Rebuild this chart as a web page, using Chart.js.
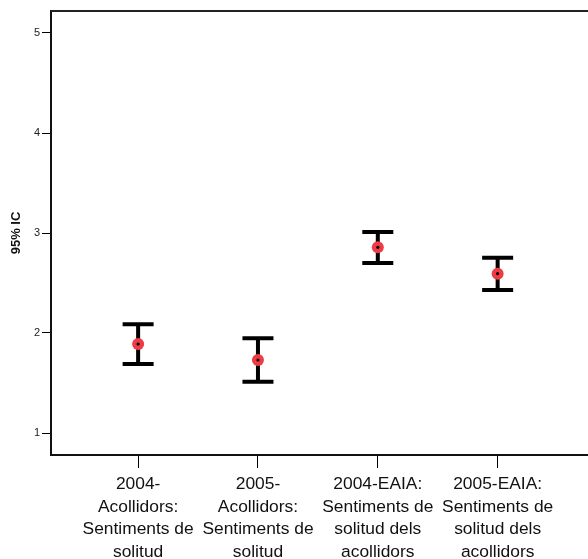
<!DOCTYPE html>
<html>
<head>
<meta charset="utf-8">
<script src="https://cdn.jsdelivr.net/npm/chart.js@4"></script>
<style>
  html, body { margin: 0; padding: 0; background: #fff; }
  #wrap { width: 588px; height: 559px; }
</style>
</head>
<body>
<div id="wrap"><canvas id="c" width="588" height="559"></canvas></div>
<script>
const categories = [
  ['2004-', 'Acollidors:', 'Sentiments de', 'solitud'],
  ['2005-', 'Acollidors:', 'Sentiments de', 'solitud'],
  ['2004-EAIA:', 'Sentiments de', 'solitud dels', 'acollidors'],
  ['2005-EAIA:', 'Sentiments de', 'solitud dels', 'acollidors']
];
const means = [1.89, 1.73, 2.857, 2.593];
const lower = [1.69, 1.513, 2.70, 2.43];
const upper = [2.087, 1.947, 3.01, 2.753];
const yTicks = [1, 2, 3, 4, 5];
const yTitle = '95% IC';

const positions = categories.map((_, i) => i + 1);
const pointData = positions.map((x, i) => ({ x: x, y: means[i] }));

const errorBarPlugin = {
  id: 'errorBars',
  beforeDatasetsDraw(chart) {
    const ctx = chart.ctx;
    const xs = chart.scales.x, ys = chart.scales.y;
    ctx.save();
    ctx.strokeStyle = '#000';
    ctx.lineWidth = 4;
    ctx.lineCap = 'butt';
    positions.forEach((p, i) => {
      const x = xs.getPixelForValue(p);
      const yh = ys.getPixelForValue(upper[i]);
      const yl = ys.getPixelForValue(lower[i]);
      ctx.beginPath();
      ctx.moveTo(x, yh); ctx.lineTo(x, yl);
      ctx.moveTo(x - 15.5, yh); ctx.lineTo(x + 15.5, yh);
      ctx.moveTo(x - 15.5, yl); ctx.lineTo(x + 15.5, yl);
      ctx.stroke();
    });
    ctx.restore();
  },
  afterDraw(chart) {
    const ctx = chart.ctx;
    const a = chart.chartArea;
    ctx.save();
    ctx.strokeStyle = '#222';
    ctx.lineWidth = 2;
    ctx.beginPath();
    ctx.moveTo(a.left, a.top);
    ctx.lineTo(chart.width, a.top);
    ctx.stroke();
    ctx.restore();
  }
};

new Chart(document.getElementById('c'), {
  type: 'scatter',
  data: {
    datasets: [
      { data: pointData, order: 0, pointRadius: 1.6, pointHoverRadius: 1.6, backgroundColor: '#000', borderWidth: 0 },
      { data: pointData, order: 1, pointRadius: 6, pointHoverRadius: 6, backgroundColor: '#ef3b45', borderWidth: 0 }
    ]
  },
  options: {
    responsive: false,
    animation: false,
    events: [],
    layout: { autoPadding: false, padding: { left: 0, top: 11, right: 0, bottom: 0 } },
    plugins: { legend: { display: false }, tooltip: { enabled: false } },
    scales: {
      x: {
        type: 'linear',
        min: 0.273,
        max: 4.754,
        afterBuildTicks(scale) { scale.ticks = positions.map(v => ({ value: v })); },
        afterFit(scale) { scale.height = 104; scale.paddingLeft = 0; scale.paddingRight = 0; },
        ticks: {
          autoSkip: false,
          maxRotation: 0,
          padding: 5,
          color: '#111',
          font: { family: 'Liberation Sans, Arial, sans-serif', size: 17.4, lineHeight: 1.3 },
          callback(v) { const i = Math.round(v) - 1; return categories[i] || ''; }
        },
        grid: { drawOnChartArea: false, drawTicks: true, tickLength: 13, color: '#000', lineWidth: 1 },
        border: { display: true, color: '#111', width: 2 }
      },
      y: {
        min: 0.78,
        max: 5.22,
        afterBuildTicks(scale) { scale.ticks = yTicks.map(v => ({ value: v })); },
        afterFit(scale) { scale.width = 51; scale.paddingTop = 0; scale.paddingBottom = 0; },
        ticks: {
          padding: 2,
          color: '#222',
          font: { family: 'Liberation Sans, Arial, sans-serif', size: 11 }
        },
        title: {
          display: true,
          text: yTitle,
          color: '#111',
          padding: { top: 9, bottom: 0 },
          font: { family: 'Liberation Sans, Arial, sans-serif', size: 13, weight: 'bold' }
        },
        grid: { drawOnChartArea: false, drawTicks: true, tickLength: 9, color: '#000', lineWidth: 1 },
        border: { display: true, color: '#111', width: 2 }
      }
    }
  },
  plugins: [errorBarPlugin]
});
</script>
</body>
</html>
